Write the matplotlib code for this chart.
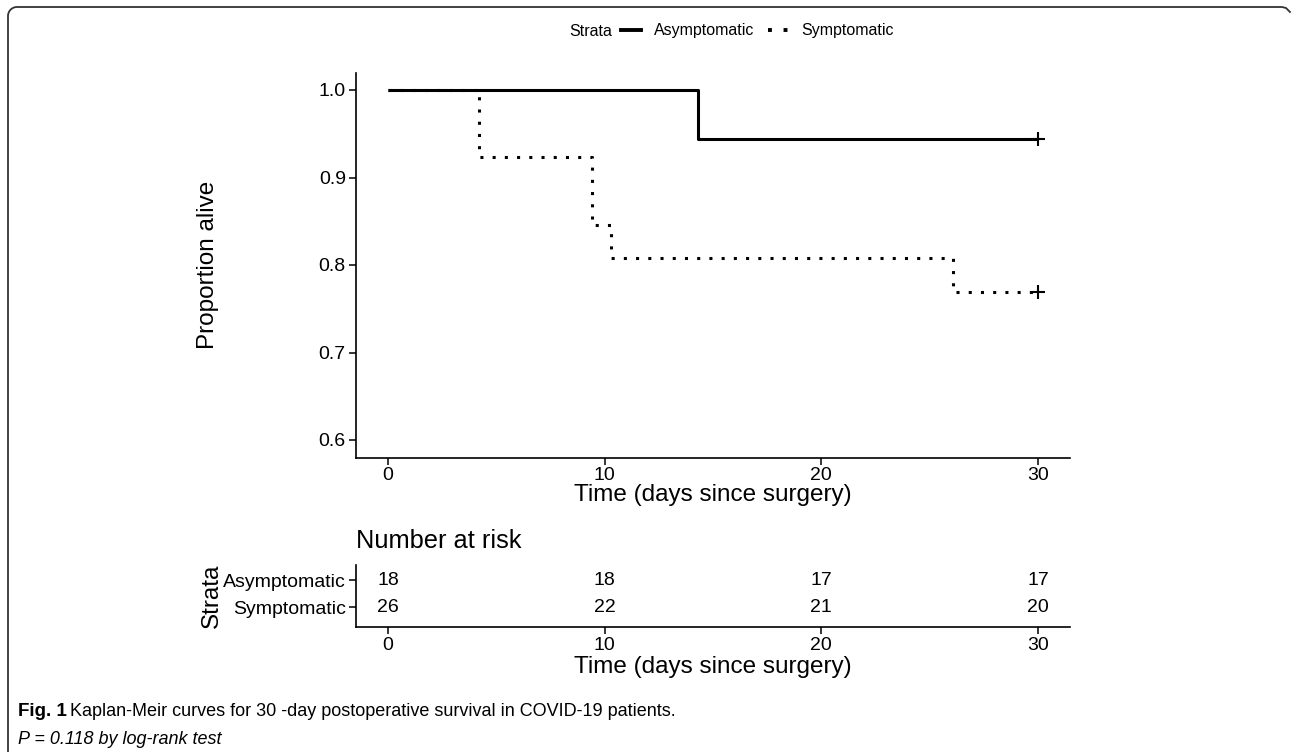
import numpy as np
import matplotlib.pyplot as plt
from matplotlib.lines import Line2D

# survival curves (time in days, proportion alive)
asym_t = [0, 14.3, 30]
asym_s = [1.0, 0.944, 0.944]
sym_t = [0, 4.2, 9.4, 10.3, 26.1, 30]
sym_s = [1.0, 0.923, 0.846, 0.808, 0.769, 0.769]

# number at risk table
risk_times = [0, 10, 20, 30]
risk_asym = [18, 18, 17, 17]
risk_sym = [26, 22, 21, 20]
strata = ["Asymptomatic", "Symptomatic"]

W, H = 1292, 752
fig = plt.figure(figsize=(W / 100, H / 100), dpi=100)
plt.rcParams['font.family'] = ['Liberation Sans', 'DejaVu Sans']

def box(l, r, t, b):
    return [l / W, 1 - b / H, (r - l) / W, (b - t) / H]

ax_l, ax_r = 355.5, 1070.5

# main KM plot
ax = fig.add_axes(box(ax_l, ax_r, 72.5, 457.5))
ax.step(asym_t, asym_s, where="post", color="black", lw=2.2, solid_capstyle="butt")
ax.step(sym_t, sym_s, where="post", color="black", lw=2.2, linestyle=(0, (1, 3)))
ax.plot([30], [asym_s[-1]], marker="+", color="black", ms=10, mew=1.5)
ax.plot([30], [sym_s[-1]], marker="+", color="black", ms=10, mew=1.5)
ax.set_xlim(-1.5, 31.5)
ax.set_ylim(0.58, 1.02)
ax.set_xticks([0, 10, 20, 30])
ax.set_yticks([0.6, 0.7, 0.8, 0.9, 1.0])
ax.set_yticklabels(["0.6", "0.7", "0.8", "0.9", "1.0"])
ax.set_xlabel("Time (days since surgery)", fontsize=17.5, labelpad=0)
ax.set_ylabel("Proportion alive", fontsize=17.5, labelpad=72)
for s in ["top", "right"]:
    ax.spines[s].set_visible(False)
for s in ["left", "bottom"]:
    ax.spines[s].set_linewidth(1.2)
ax.tick_params(labelsize=14, length=5, width=1.1, colors="black", pad=2)

# risk table
rt = fig.add_axes(box(ax_l, ax_r, 565, 627))
for i, vals in enumerate([risk_asym, risk_sym]):
    ypos = 2 - i
    for t, v in zip(risk_times, vals):
        rt.text(t, ypos, str(v), ha="center", va="center", fontsize=14)
rt.set_xlim(-1.5, 31.5)
rt.set_ylim(0.26, 2.56)
rt.set_xticks(risk_times)
rt.set_yticks([2, 1])
rt.set_yticklabels(strata)
rt.set_xlabel("Time (days since surgery)", fontsize=17.5, labelpad=2)
rt.set_ylabel("Strata", fontsize=17.5, labelpad=0)
rt.set_title("Number at risk", loc="left", fontsize=18.3, pad=12)
for s in ["top", "right"]:
    rt.spines[s].set_visible(False)
for s in ["left", "bottom"]:
    rt.spines[s].set_linewidth(1.2)
rt.tick_params(labelsize=14, length=5, width=1.1, pad=2)
rt.tick_params(axis="y", labelsize=14, pad=2)

# legend on top
fig.text(612 / W, 1 - 31 / H, "Strata", ha="right", va="center", fontsize=11.5)
handles = [Line2D([], [], color="black", lw=2.8),
           Line2D([], [], color="black", lw=2.8, linestyle=(0, (1, 3)))]
fig.legend(handles, strata, loc="center left", bbox_to_anchor=(621 / W, 1 - 31 / H),
           ncol=2, frameon=False, fontsize=11.5, handlelength=1.25, handletextpad=0.8,
           columnspacing=0.9, borderaxespad=0, borderpad=0)

# caption
fig.text(18 / W, 1 - 712 / H, "Fig. 1", fontsize=13.5, fontweight="bold", va="center")
fig.text(70 / W, 1 - 712 / H, "Kaplan-Meir curves for 30 -day postoperative survival in COVID-19 patients.",
         fontsize=13, va="center")
fig.text(18 / W, 1 - 740 / H, "P = 0.118 by log-rank test", fontsize=13, style="italic",
         va="center")

# journal frame
r = 9
th = np.linspace(np.pi, np.pi / 2, 20)
fx = np.concatenate([[8], 8 + r + r * np.cos(th), [1282, 1286, 1290]])
fy = np.concatenate([[752], 7 + r - r * np.sin(th), [7, 8, 12]])
fig.add_artist(Line2D(fx / W, 1 - fy / H, color="#333333", lw=1.3, transform=fig.transFigure))

fig.savefig("out.png", dpi=100)
